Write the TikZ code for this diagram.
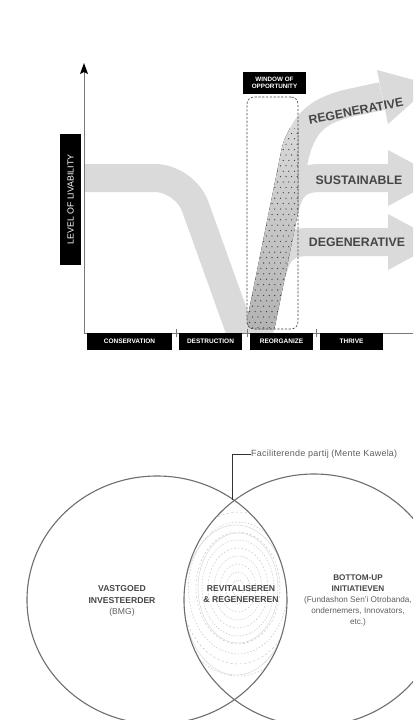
\documentclass[tikz,border=0pt]{standalone}
\usepackage{fontspec}
\setmainfont{Liberation Sans}
\usetikzlibrary{arrows.meta,shapes.geometric}
\definecolor{bandgray}{RGB}{218,218,218}
\definecolor{banddark}{RGB}{178,178,178}
\definecolor{dotc}{RGB}{55,55,55}
\definecolor{axisc}{RGB}{120,120,120}
\definecolor{txtdark}{RGB}{70,70,70}
\definecolor{txtmid}{RGB}{95,95,95}
\definecolor{circc}{RGB}{110,110,110}
\tikzset{
  band/.style={line width=28pt, draw=bandgray, line join=round},
  lbl/.style={fill=black, text=white, font=\fontsize{6.5}{7}\selectfont\bfseries, minimum height=17pt, inner sep=0pt},
  bigtxt/.style={text=txtdark, font=\fontsize{12.3}{13}\selectfont\bfseries, inner sep=0pt},
  venn/.style={draw=circc, line width=1.1pt, ellipse, inner sep=0pt},
  vtext/.style={align=center, text=txtdark, inner sep=0pt},
  tick/.style={draw=axisc, line width=0.7pt},
}
\begin{document}
\begin{tikzpicture}[x=1pt,y=-1pt]
\useasboundingbox (0,0) rectangle (413,720);
\fill[white] (0,0) rectangle (413,720);
\clip (0,0) rectangle (413,720);

% ---------- top chart: bands ----------
\begin{scope}
  \clip (84,0) rectangle (413,333);
  \draw[band, rounded corners=30pt] (84,178) -- (185,178) -- (246,348);
  \draw[band] (256,348) -- (294,160) .. controls (302,122) and (318,112) .. (345,104) -- (382,96);
  \draw[band] (284,212) .. controls (290,184) and (300,178) .. (322,178) -- (392,178);
  \draw[band] (272,274) .. controls (278,248) and (288,242) .. (310,242) -- (392,242);
  \fill[bandgray] (377,70) -- (432,85) -- (388,124) -- cycle;
  \fill[bandgray] (388,150) -- (440,178) -- (388,206) -- cycle;
  \fill[bandgray] (388,214) -- (440,242) -- (388,270) -- cycle;
  % dotted part of the rising band inside the window
  \begin{scope}
    \clip (247,97) [rounded corners=7pt] rectangle (298,329);
    \clip (242,345) -- (280,157) .. controls (283,142) .. (290,128) -- (305,128) -- (308,163) -- (270,351) -- cycle;
    \fill[top color=bandgray, bottom color=banddark] (240,120) rectangle (300,335);
    \foreach \j in {0,...,38} {
      \foreach \i in {0,...,10} {
        \fill[dotc] ({244+\i*5.6+2.8*mod(\j,2)},{128+\j*5.4}) circle (0.65);
      }
    }
  \end{scope}
\end{scope}

% window of opportunity
\node[draw=txtdark, dash pattern=on 2.2pt off 1.6pt, line width=0.6pt, rounded corners=7pt,
      minimum width=51pt, minimum height=232pt, inner sep=0pt] (win) at (272.5,213) {};
\node[fill=black, text=white, align=center, minimum width=63pt, minimum height=22pt, inner sep=0pt,
      font=\fontsize{6.3}{7.5}\selectfont\bfseries] (woo) at (274.5,83) {WINDOW OF\\OPPORTUNITY};

% axes
\coordinate (origin) at (84,333);
\coordinate (ytop) at (84,63);
\coordinate (xend) at (413,333);
\draw[axisc, line width=0.8pt] (origin) -- (xend);
\draw[axisc, line width=0.8pt] (origin) -- (84,72);
\fill[black] (ytop) -- (88,74) -- (84,72) -- (80,74) -- cycle;

% phase labels
\node[lbl, minimum width=85pt] (cons) at (129.5,341.5) {CONSERVATION};
\node[lbl, minimum width=63pt] (dest) at (210.5,341.5) {DESTRUCTION};
\node[lbl, minimum width=63pt] (reorg) at (281.5,341.5) {REORGANIZE};
\node[lbl, minimum width=63pt] (thrive) at (351.5,341.5) {THRIVE};
\draw[tick] (176.5,329) -- (176.5,337);
\draw[tick] (247,329) -- (247,337);
\draw[tick] (316.5,329) -- (316.5,337);

% y label
\node[fill=black, text=white, rotate=90, minimum width=131pt, minimum height=21pt, inner sep=0pt,
      font=\fontsize{8.8}{9}\selectfont] (level) at (70.5,199.5) {LEVEL OF LIVABILITY};

% outcome labels
\node[bigtxt, rotate=11] (regen) at (356,111) {REGENERATIVE};
\node[bigtxt] (sust) at (359,180) {SUSTAINABLE};
\node[bigtxt] (degen) at (357,242) {DEGENERATIVE};

% ---------- Venn ----------
\begin{scope}
  \clip (157,600) ellipse [x radius=130, y radius=124];
  \clip (314,600) ellipse [x radius=130, y radius=126];
  \foreach \r/\s in {8/0.9,16/1.2,24/1.5,32/1.1,40/1.6,48/1.3,56/1.8,66/1.4,76/2.0,88/1.5} {
    \draw[gray!50, line width=0.45pt, dash pattern=on {\s pt} off {1.3*\s pt}] (238,588) ellipse [x radius=\r*0.75, y radius=\r];
  }
  \draw[gray!35, line width=0.4pt] (238,588) ellipse [x radius=40, y radius=55];
  \draw[gray!35, line width=0.4pt] (236,600) ellipse [x radius=52, y radius=75];
\end{scope}
\node[venn, minimum width=260pt, minimum height=248pt] (lcirc) at (157,600) {};
\node[venn, minimum width=260pt, minimum height=252pt] (rcirc) at (314,600) {};

\coordinate (meet) at (232.5,500);
\node[anchor=west, inner sep=0pt, text=txtmid, font=\fontsize{9}{9}\selectfont\addfontfeature{LetterSpace=2.5}] (fac) at (251,454) {Faciliterende partij (Mente Kawela)};
\draw[black!80, line width=1pt] (meet) |- (fac.west);

\node[vtext, font=\fontsize{8.6}{11.5}\selectfont] (vast) at (122,601) {\textbf{VASTGOED}\\\textbf{INVESTEERDER}\\\textcolor{txtmid}{(BMG)}};
\node[vtext, font=\fontsize{8.6}{11}\selectfont\bfseries] (revit) at (241,594.5) {REVITALISEREN\\\& REGENEREREN};
\node[vtext, font=\fontsize{8.2}{11}\selectfont] (bott) at (358,600) {\textbf{BOTTOM-UP}\\\textbf{INITIATIEVEN}\\\textcolor{txtmid}{(Fundashon Sen'i Otrobanda,}\\\textcolor{txtmid}{ondernemers, Innovators,}\\\textcolor{txtmid}{etc.)}};
\end{tikzpicture}
\end{document}
